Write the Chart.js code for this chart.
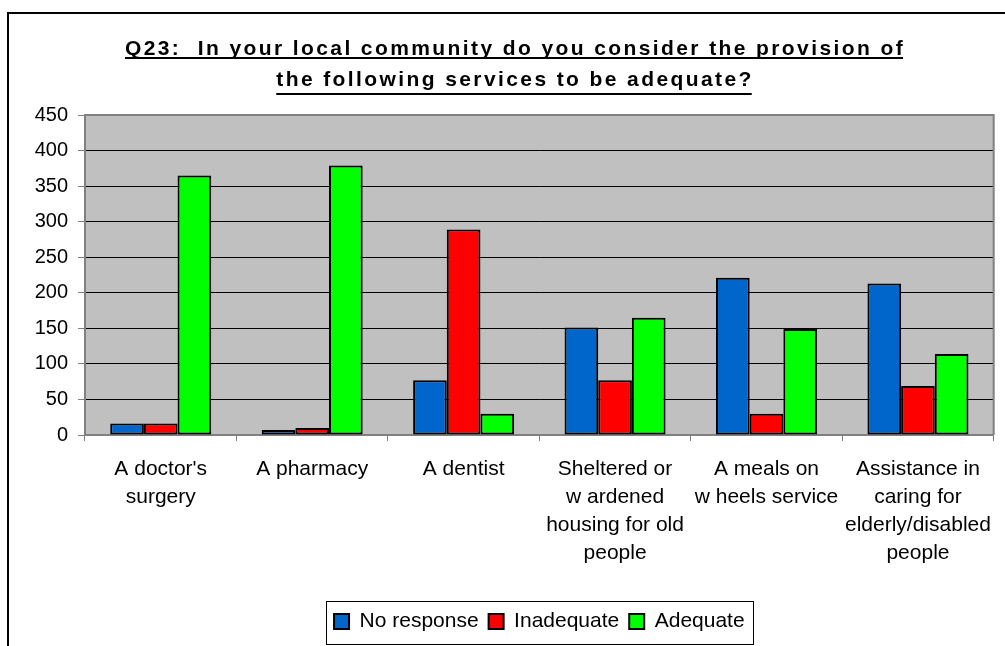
<!DOCTYPE html>
<html>
<head>
<meta charset="utf-8">
<script src="https://cdn.jsdelivr.net/npm/chart.js@4.4.1/dist/chart.umd.min.js"></script>
<style>
html, body { margin: 0; padding: 0; background: #fff; overflow: hidden; }
#wrap { width: 1005px; height: 646px; }
</style>
</head>
<body>
<div id="wrap"><canvas id="myChart" width="1005" height="646"></canvas></div>
<script>
// question title, two lines
var titleLines = [
    "Q23:  In your local community do you consider the provision of",
    "the following services to be adequate?"
];
// categories (one entry per wrapped line)
var categories = [
    ["A doctor's", "surgery"],
    ["A pharmacy"],
    ["A dentist"],
    ["Sheltered or", "w ardened", "housing for old", "people"],
    ["A meals on", "w heels service"],
    ["Assistance in", "caring for", "elderly/disabled", "people"]
];
var seriesNames = ["No response", "Inadequate", "Adequate"];
var noResponse = [16, 7, 77, 151, 221, 213];
var inadequate = [16, 10, 289, 77, 30, 69];
var adequate = [365, 379, 30, 165, 149, 114];
var yMin = 0, yMax = 450, yStep = 50;

var FONT = "'Liberation Sans', Arial, sans-serif";

var excelFrame = {
    id: 'excelFrame',
    beforeDraw: function(chart) {
        var ctx = chart.ctx, a = chart.chartArea;
        ctx.save();
        ctx.fillStyle = '#ffffff';
        ctx.fillRect(0, 0, chart.width, chart.height);
        ctx.fillStyle = '#c0c0c0';
        ctx.fillRect(a.left, a.top, a.right - a.left, a.bottom - a.top);
        ctx.restore();
    },
    beforeDatasetsDraw: function(chart) {
        var ctx = chart.ctx, a = chart.chartArea;
        ctx.save();
        ctx.strokeStyle = '#808080';
        ctx.lineWidth = 2;
        ctx.beginPath();
        ctx.moveTo(a.left, a.top);
        ctx.lineTo(a.right, a.top);
        ctx.lineTo(a.right, a.bottom);
        ctx.stroke();
        ctx.restore();
    },
    afterDraw: function(chart) {
        var ctx = chart.ctx;
        ctx.save();
        // outer chart border
        ctx.strokeStyle = '#000';
        ctx.lineWidth = 2;
        ctx.strokeRect(8, 13, 1100, 1000);

        // title with underline
        ctx.font = 'bold 21px ' + FONT;
        if ('letterSpacing' in ctx) ctx.letterSpacing = '2.4px';
        ctx.fillStyle = '#000';
        ctx.textAlign = 'left';
        ctx.textBaseline = 'alphabetic';
        var baselines = [55, 86];
        var underlines = [58, 94];
        for (var i = 0; i < titleLines.length; i++) {
            var w = ctx.measureText(titleLines[i]).width;
            var x = 515 - w / 2;
            ctx.fillText(titleLines[i], x, baselines[i]);
            ctx.fillRect(x, underlines[i] - 1, w - 2, 2);
        }
        if ('letterSpacing' in ctx) ctx.letterSpacing = '0px';

        // legend border
        var boxes = chart.legend.legendHitBoxes;
        if (boxes && boxes.length) {
            var l = boxes[0].left, r = boxes[boxes.length - 1].left + boxes[boxes.length - 1].width;
            var t = boxes[0].top, b = boxes[0].top + boxes[0].height;
            ctx.strokeStyle = '#000';
            ctx.lineWidth = 1;
            ctx.strokeRect(Math.round(l - 8) + 0.5, Math.round(t - 10) + 0.5, Math.round(r - l + 16), Math.round(b - t + 22));
        }
        ctx.restore();
    }
};

var ctx = document.getElementById('myChart').getContext('2d');
var report = new Chart(ctx, {
    type: 'bar',
    data: {
        labels: categories,
        datasets: [{
            label: seriesNames[0],
            data: noResponse,
            backgroundColor: '#0066cc'
        }, {
            label: seriesNames[1],
            data: inadequate,
            backgroundColor: '#ff0000'
        }, {
            label: seriesNames[2],
            data: adequate,
            backgroundColor: '#00ff00'
        }]
    },
    options: {
        responsive: false,
        animation: false,
        layout: { padding: { top: 115, left: 0, right: 1, bottom: 4 } },
        datasets: {
            bar: {
                categoryPercentage: 0.667,
                barPercentage: 1,
                borderColor: '#000',
                borderWidth: 2,
                borderSkipped: false
            }
        },
        plugins: {
            title: { display: false },
            tooltip: { enabled: false },
            legend: {
                position: 'bottom',
                fullSize: false,
                labels: {
                    color: '#000',
                    font: { family: FONT, size: 21 },
                    boxWidth: 15,
                    boxHeight: 15,
                    padding: 10
                }
            }
        },
        scales: {
            x: {
                afterFit: function(scale) { scale.height = 166; },
                grid: {
                    offset: true,
                    drawOnChartArea: false,
                    drawTicks: true,
                    tickLength: 6,
                    tickColor: '#808080'
                },
                border: { color: '#808080', width: 2 },
                ticks: {
                    color: '#000',
                    autoSkip: false,
                    maxRotation: 0,
                    padding: 14,
                    font: { family: FONT, size: 21, lineHeight: 28 / 21 }
                }
            },
            y: {
                min: yMin,
                max: yMax,
                afterFit: function(scale) { scale.width = 85; },
                grid: {
                    color: function(c) {
                        return (c.tick && (c.tick.value === yMax || c.tick.value === yMin)) ? '#808080' : '#000';
                    },
                    lineWidth: 1,
                    tickLength: 7,
                    tickColor: '#808080'
                },
                border: { color: '#808080', width: 2 },
                ticks: {
                    stepSize: yStep,
                    color: '#000',
                    padding: 10,
                    font: { family: FONT, size: 20 }
                }
            }
        }
    },
    plugins: [excelFrame]
});
</script>
</body>
</html>
